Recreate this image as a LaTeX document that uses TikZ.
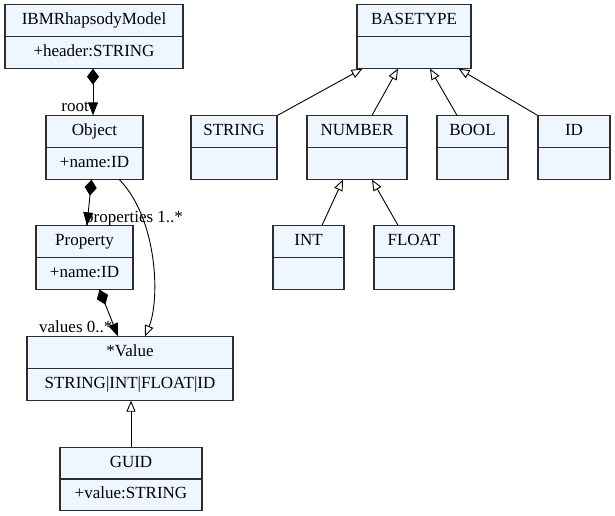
\documentclass[tikz,border=0pt]{standalone}
\usepackage{fontspec}
\setmainfont{Liberation Serif}
\usetikzlibrary{shapes.multipart,arrows.meta}
\definecolor{clsfill}{RGB}{238,246,255}
\definecolor{clsline}{RGB}{45,45,45}
\begin{document}
\begin{tikzpicture}[x=1pt,y=-1pt,font=\fontsize{17}{19}\selectfont,
  cls/.style={rectangle split, rectangle split parts=2, draw=clsline, fill=clsfill,
    line width=1.1pt, inner xsep=3pt, inner ysep=5.75pt, anchor=center},
  lbl/.style={inner sep=0pt},
  edge/.style={line width=0.9pt, draw=black},
  comp/.style={edge, {Diamond[length=16pt,width=12pt]}-{Triangle[length=13pt,width=10pt]}},
  gen/.style={edge, -{Triangle[open,length=11pt,width=9pt,fill=white]}}]
\useasboundingbox (0,0) rectangle (615,516);
\node[cls, minimum width=178pt] (ibm) at (94,36.5) {\strut IBMRhapsodyModel\nodepart{two}\strut +header:STRING};
\node[cls, minimum width=97pt] (obj) at (94.5,147.5) {\strut Object\nodepart{two}\strut +name:ID};
\node[cls, minimum width=97pt] (prop) at (84.5,257.5) {\strut Property\nodepart{two}\strut +name:ID};
\node[cls, minimum width=206pt] (val) at (130,368.5) {\strut *Value\nodepart{two}\strut STRING|INT|FLOAT|ID};
\node[cls, minimum width=142pt] (guid) at (131,479) {\strut GUID\nodepart{two}\strut +value:STRING};
\node[cls, minimum width=114pt] (base) at (414,36.5) {\strut BASETYPE\nodepart{two}\strut};
\node[cls, minimum width=86pt] (str) at (234,147.5) {\strut STRING\nodepart{two}\strut};
\node[cls, minimum width=100pt] (num) at (357,147.5) {\strut NUMBER\nodepart{two}\strut};
\node[cls, minimum width=71pt] (bool) at (472.5,147.5) {\strut BOOL\nodepart{two}\strut};
\node[cls, minimum width=72pt] (id) at (574,147.5) {\strut ID\nodepart{two}\strut};
\node[cls, minimum width=71pt] (int) at (308.5,257.5) {\strut INT\nodepart{two}\strut};
\node[cls, minimum width=80pt] (float) at (414,257.5) {\strut FLOAT\nodepart{two}\strut};
% compositions
\draw[comp] ([xshift=-1pt]ibm.south) -- ([xshift=-1.5pt]obj.north);
\node[lbl, anchor=base east] (rootlbl) at (89,111) {root};
\draw[comp] ([xshift=-3pt]obj.south) -- ([xshift=2.5pt]prop.north);
\node[lbl, anchor=base west] (proplbl) at (85,222) {properties 1..*};
\draw[comp] ([xshift=15pt]prop.south) -- ([xshift=-12pt]val.north);
\node[lbl, anchor=base west] (vallbl) at (39,332) {values 0..*};
% generalizations
\draw[gen] ([xshift=25pt]obj.south) .. controls (158,220) and (160,300) .. ([xshift=15pt]val.north);
\draw[gen] (guid.north) -- ([xshift=1pt]val.south);
\draw[gen] (str.north east) -- ([xshift=6pt]base.south west);
\draw[gen] ([xshift=15pt]num.north) -- ([xshift=-16pt]base.south);
\draw[gen] ([xshift=-15.5pt]bool.north) -- ([xshift=16pt]base.south);
\draw[gen] (id.north west) -- ([xshift=-13pt]base.south east);
\draw[gen] ([xshift=13.5pt]int.north) -- ([xshift=-14pt]num.south);
\draw[gen] ([xshift=-16pt]float.north) -- ([xshift=15pt]num.south);
\end{tikzpicture}
\end{document}
